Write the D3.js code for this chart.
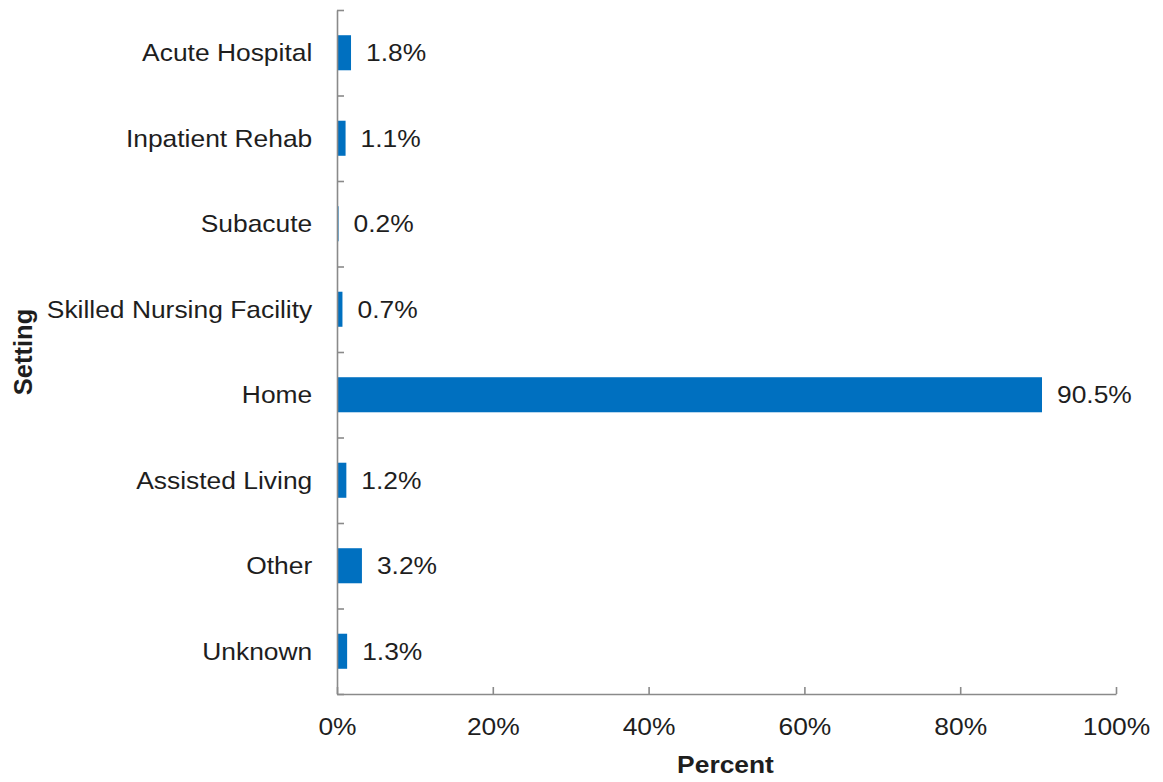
<!DOCTYPE html>
<html>
<head>
<meta charset="utf-8">
<script src="https://cdn.jsdelivr.net/npm/d3@7"></script>
<style>
  body { margin: 0; background: #fff; }
  svg { display: block; font-family: "Liberation Sans", Arial, sans-serif; }
</style>
</head>
<body>
<svg id="chart" width="1163" height="782"></svg>
<script>
const categories = ["Acute Hospital", "Inpatient Rehab", "Subacute", "Skilled Nursing Facility",
                    "Home", "Assisted Living", "Other", "Unknown"];
const values = [1.8, 1.1, 0.2, 0.7, 90.5, 1.2, 3.2, 1.3];
const xTicks = [0, 20, 40, 60, 80, 100];
const xTitle = "Percent";
const yTitle = "Setting";

(function () {
const svg = d3.select("#chart");
const mLeft = 337, mRight = 1116, mTop = 10, mBottom = 694;
const SX = 1.1;
const textColor = "#1e1e1e";
const axisColor = "#8a8a8a";

const x = d3.scaleLinear().domain([0, 100]).range([mLeft, mRight]);
const y = d3.scaleBand().domain(categories).range([mTop, mBottom])
  .paddingInner(0.59).paddingOuter(0.295);
const yEdge = d3.scaleLinear().domain([0, categories.length]).range([mTop, mBottom]);

// bars
svg.append("g").selectAll("rect").data(values).join("rect")
  .attr("x", x(0))
  .attr("y", (d, i) => y(categories[i]))
  .attr("width", d => x(d) - x(0))
  .attr("height", y.bandwidth())
  .attr("fill", "#0070C0");

// value labels
svg.append("g").selectAll("text").data(values).join("text")
  .attr("transform", (d, i) => `translate(${x(d) + 15},${y(categories[i]) + y.bandwidth() / 2}) scale(${SX},1)`)
  .attr("dy", "0.36em")
  .attr("font-size", 24)
  .attr("fill", textColor)
  .text(d => d.toFixed(1) + "%");

// y axis: boundary ticks (inward)
const gyTicks = svg.append("g").attr("transform", `translate(${mLeft},0)`)
  .call(d3.axisRight(yEdge).tickValues(d3.range(0, categories.length + 1)).tickSize(7).tickSizeOuter(0).tickFormat(""));
gyTicks.select(".domain").attr("stroke", axisColor).attr("stroke-width", 1.6);
gyTicks.selectAll(".tick line").attr("stroke", axisColor).attr("stroke-width", 1.6);

// y axis labels
const gyLab = svg.append("g").attr("transform", `translate(${mLeft},0)`)
  .call(d3.axisLeft(y).tickSize(0).tickPadding(0));
gyLab.select(".domain").remove();
gyLab.selectAll(".tick text")
  .attr("x", -22.5)
  .attr("dy", "0.36em")
  .attr("transform", `scale(${SX},1)`)
  .attr("font-size", 24)
  .attr("font-family", "Liberation Sans, Arial, sans-serif")
  .attr("fill", textColor);

// x axis
const gx = svg.append("g").attr("transform", `translate(0,${mBottom})`)
  .call(d3.axisBottom(x).tickValues(xTicks).tickSize(-7).tickSizeOuter(0).tickFormat(d => d + "%"));
gx.select(".domain").attr("stroke", axisColor).attr("stroke-width", 1.6);
gx.selectAll(".tick line").attr("stroke", axisColor).attr("stroke-width", 1.6);
gx.selectAll(".tick text")
  .attr("y", 41).attr("dy", 0)
  .attr("transform", `scale(${SX},1)`)
  .attr("font-size", 24)
  .attr("font-family", "Liberation Sans, Arial, sans-serif")
  .attr("fill", textColor);

// axis titles
svg.append("text")
  .attr("transform", `translate(${(mLeft + mRight) / 2 - 1},773) scale(${SX},1)`)
  .attr("text-anchor", "middle")
  .attr("font-size", 24).attr("font-weight", "bold")
  .attr("fill", textColor)
  .text(xTitle);

svg.append("text")
  .attr("transform", `translate(32,${(mTop + mBottom) / 2}) rotate(-90)`)
  .attr("text-anchor", "middle")
  .attr("font-size", 25.5).attr("font-weight", "bold")
  .attr("fill", textColor)
  .text(yTitle);
})();
</script>
</body>
</html>
